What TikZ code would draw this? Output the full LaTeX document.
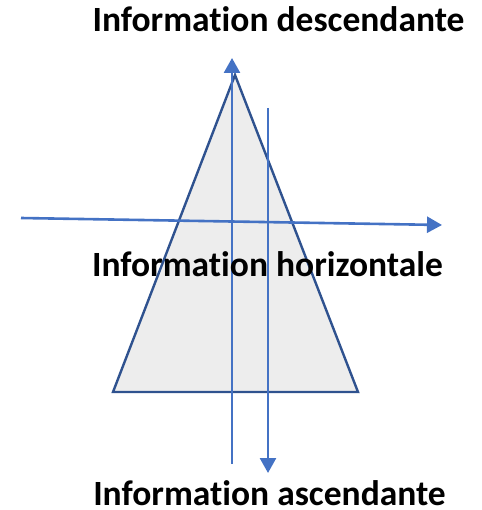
\documentclass[tikz,border=0pt]{standalone}
\usepackage{fontspec}
\setmainfont{Carlito}[Ligatures={NoCommon}]
\usetikzlibrary{arrows.meta}
\definecolor{flowblue}{HTML}{4472C4}
\definecolor{edgeblue}{HTML}{2F528F}
\definecolor{pyramidfill}{HTML}{EDEDED}
\begin{document}
\begin{tikzpicture}[x=1bp,y=-1bp,
  flow/.style={draw=flowblue,line width=2.6bp,-{Triangle[length=15bp,width=16bp]}},
  caption/.style={font=\fontsize{35.5bp}{40bp}\selectfont\bfseries,anchor=base,inner sep=0pt,text depth=0pt}]
  \useasboundingbox (0,0) rectangle (482,510);
  % pyramid
  \coordinate (apex) at (235,75);
  \coordinate (bl) at (113,392);
  \coordinate (br) at (358,392);
  \filldraw[fill=pyramidfill,draw=edgeblue,line width=2.4bp,line join=miter]
    (apex) -- (bl) -- (br) -- cycle;
  % information flows
  \coordinate (upS) at (232,464);
  \coordinate (upE) at (232,58);
  \coordinate (downS) at (268,108);
  \coordinate (downE) at (268,473);
  \coordinate (horS) at (21,218);
  \coordinate (horE) at (442,225);
  \draw[flow] (upS) -- (upE);
  \draw[flow] (downS) -- (downE);
  \draw[flow] (horS) -- (horE);
  % labels
  \node[caption] (desc) at (278.5,32) {Information descendante};
  \node[caption] (hori) at (267.5,276) {Information horizontale};
  \node[caption] (asc) at (269.5,505) {Information ascendante};
\end{tikzpicture}
\end{document}
